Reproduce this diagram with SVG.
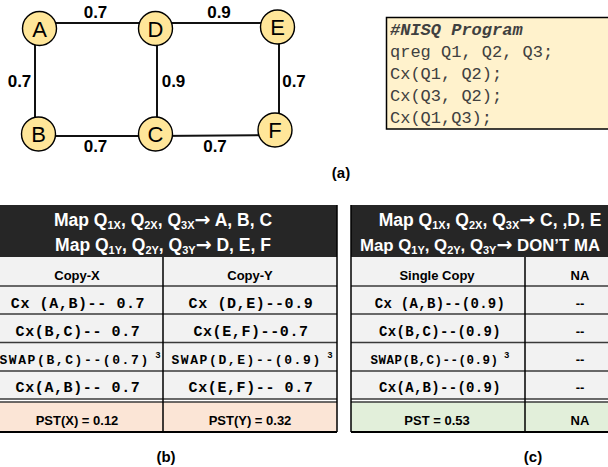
<svg xmlns="http://www.w3.org/2000/svg" width="608" height="467" viewBox="0 0 608 467">
<style>
.node circle{fill:#FFE699;stroke:#000;stroke-width:1.4}
.node text{font-family:"Liberation Sans",Arial,sans-serif;font-size:22px;text-anchor:middle;fill:#000}
.edge{stroke:#111;stroke-width:2;fill:none}
.el{font-family:"Liberation Sans",Arial,sans-serif;font-size:17px;font-weight:bold;text-anchor:middle;fill:#000}
.code{font-family:"Liberation Mono","Courier New",monospace;font-size:17px;fill:#404040}
.hd{font-family:"Liberation Sans",Arial,sans-serif;font-size:17.5px;font-weight:bold;fill:#fff;text-anchor:middle}
.hs{font-family:"Liberation Sans",Arial,sans-serif;font-size:16.8px;font-weight:bold;fill:#fff;text-anchor:start}
.sb{font-size:11px}
.ar{font-family:"DejaVu Sans",sans-serif;font-size:19px;font-weight:bold}
.cal{font-family:"Liberation Sans",Arial,sans-serif;font-size:13px;font-weight:bold;fill:#000;text-anchor:middle}
.mb{font-family:"Liberation Mono","Courier New",monospace;font-size:15px;font-weight:bold;letter-spacing:0.6px;fill:#000;text-anchor:middle}
.mc{font-family:"Liberation Mono","Courier New",monospace;font-size:14px;font-weight:bold;letter-spacing:0.3px;fill:#000;text-anchor:middle}
.sw{font-family:"Liberation Mono","Courier New",monospace;font-size:13px;font-weight:bold;letter-spacing:1.6px;fill:#000;text-anchor:middle}
.swc{font-family:"Liberation Mono","Courier New",monospace;font-size:12.5px;font-weight:bold;letter-spacing:0.5px;fill:#000;text-anchor:middle}
.sup{font-size:9px;letter-spacing:0}
.rl{stroke:#3a3a3a;stroke-width:1.3}
.vl{stroke:#000;stroke-width:1.5}
.lab{font-family:"Liberation Sans",Arial,sans-serif;font-size:15px;font-weight:bold;text-anchor:middle;fill:#000}
</style>

<g id="connectors">
<line class="edge" x1="40" y1="23" x2="156" y2="23"/>
<line class="edge" x1="156" y1="23" x2="278" y2="23"/>
<line class="edge" x1="35" y1="28" x2="35" y2="134"/>
<line class="edge" x1="157" y1="28" x2="157" y2="134"/>
<line class="edge" x1="279" y1="27" x2="279" y2="130"/>
<line class="edge" x1="38" y1="136" x2="156" y2="136"/>
<line class="edge" x1="156" y1="136" x2="275" y2="135"/>
<text class="el" x="95.5" y="17.5">0.7</text>
<text class="el" x="219" y="17.5">0.9</text>
<text class="el" x="19.5" y="87">0.7</text>
<text class="el" x="173.5" y="87" font-weight="normal">0.9</text>
<text class="el" x="294" y="87">0.7</text>
<text class="el" x="95.5" y="152">0.7</text>
<text class="el" x="215" y="152">0.7</text>
</g>

<g id="node-A" class="node"><circle cx="39.5" cy="28.5" r="17"/><text x="39.5" y="36.5">A</text></g>
<g id="node-D" class="node"><circle cx="155.5" cy="28.5" r="17"/><text x="155.5" y="36.5">D</text></g>
<g id="node-E" class="node"><circle cx="277.5" cy="27" r="17"/><text x="277.5" y="35">E</text></g>
<g id="node-B" class="node"><circle cx="38.5" cy="134" r="17"/><text x="38.5" y="142">B</text></g>
<g id="node-C" class="node"><circle cx="155.5" cy="134" r="17"/><text x="155.5" y="142">C</text></g>
<g id="node-F" class="node"><circle cx="275" cy="130" r="17"/><text x="275" y="138">F</text></g>

<g id="program">
<rect x="386.5" y="17.5" width="240" height="111.5" fill="#FFF2CC" stroke="#000" stroke-width="1.5"/>
<text class="code" x="390" y="35" font-weight="bold" font-style="italic" fill="#000">#NISQ Program</text>
<text class="code" x="390" y="57">qreg Q1, Q2, Q3;</text>
<text class="code" x="390" y="79">Cx(Q1, Q2);</text>
<text class="code" x="390" y="101">Cx(Q3, Q2);</text>
<text class="code" x="390" y="123">Cx(Q1,Q3);</text>
</g>
<text class="lab" x="341" y="178">(a)</text>

<g id="table-b">
<rect x="-10" y="205" width="347" height="52" fill="#262626"/>
<rect x="-10" y="257" width="347" height="142" fill="#F2F2F2"/>
<rect x="-10" y="402" width="347" height="30" fill="#FBE5D6"/>
<line class="rl" x1="-10" y1="286" x2="337" y2="286"/>
<line class="rl" x1="-10" y1="314" x2="337" y2="314"/>
<line class="rl" x1="-10" y1="342.5" x2="337" y2="342.5"/>
<line class="rl" x1="-10" y1="371" x2="337" y2="371"/>
<line class="rl" x1="-10" y1="399" x2="337" y2="399"/>
<line class="rl" x1="-10" y1="402" x2="337" y2="402"/>
<line x1="-10" y1="432" x2="337" y2="432" stroke="#000" stroke-width="2"/>
<line class="vl" x1="163" y1="257" x2="163" y2="432"/>
<line class="vl" x1="337" y1="205" x2="337" y2="432"/>
<text class="hd" x="163" y="226">Map Q<tspan class="sb" dy="3">1X</tspan><tspan dy="-3">, Q</tspan><tspan class="sb" dy="3">2X</tspan><tspan dy="-3">, Q</tspan><tspan class="sb" dy="3">3X</tspan><tspan class="ar" dy="-3">→</tspan><tspan> A, B, C</tspan></text>
<text class="hd" x="163" y="251">Map Q<tspan class="sb" dy="3">1Y</tspan><tspan dy="-3">, Q</tspan><tspan class="sb" dy="3">2Y</tspan><tspan dy="-3">, Q</tspan><tspan class="sb" dy="3">3Y</tspan><tspan class="ar" dy="-3">→</tspan><tspan> D, E, F</tspan></text>
<text class="cal" x="77" y="280">Copy-X</text>
<text class="cal" x="250" y="280">Copy-Y</text>
<text class="mb" x="78" y="307.5">Cx (A,B)-- 0.7</text>
<text class="mb" x="251" y="307.5">Cx (D,E)--0.9</text>
<text class="mb" x="78" y="336">Cx(B,C)--  0.7</text>
<text class="mb" x="251" y="336">Cx(E,F)--0.7</text>
<text class="sw" x="80" y="363.5">SWAP(B,C)--(0.7)<tspan class="sup" dy="-6"> 3</tspan></text>
<text class="sw" x="252" y="363.5">SWAP(D,E)--(0.9)<tspan class="sup" dy="-6"> 3</tspan></text>
<text class="mb" x="78" y="391.5">Cx(A,B)--  0.7</text>
<text class="mb" x="251" y="391.5">Cx(E,F)--  0.7</text>
<text class="cal" x="77" y="425">PST(X) = 0.12</text>
<text class="cal" x="250" y="425">PST(Y) = 0.32</text>
</g>
<text class="lab" x="166" y="462">(b)</text>

<g id="table-c">
<rect x="351" y="205" width="290" height="52" fill="#262626"/>
<rect x="351" y="257" width="290" height="142" fill="#F2F2F2"/>
<rect x="351" y="402" width="290" height="30" fill="#E2EFDA"/>
<line class="rl" x1="351" y1="286" x2="641" y2="286"/>
<line class="rl" x1="351" y1="314" x2="641" y2="314"/>
<line class="rl" x1="351" y1="342.5" x2="641" y2="342.5"/>
<line class="rl" x1="351" y1="371" x2="641" y2="371"/>
<line class="rl" x1="351" y1="399" x2="641" y2="399"/>
<line class="rl" x1="351" y1="402" x2="641" y2="402"/>
<line x1="351" y1="432" x2="641" y2="432" stroke="#000" stroke-width="2"/>
<line class="vl" x1="351" y1="205" x2="351" y2="432"/>
<line class="vl" x1="525" y1="257" x2="525" y2="432"/>
<text class="hd" x="490" y="226">Map Q<tspan class="sb" dy="3">1X</tspan><tspan dy="-3">, Q</tspan><tspan class="sb" dy="3">2X</tspan><tspan dy="-3">, Q</tspan><tspan class="sb" dy="3">3X</tspan><tspan class="ar" dy="-3">→</tspan><tspan> C, ,D, E</tspan></text>
<text class="hs" x="360" y="251">Map Q<tspan class="sb" dy="3">1Y</tspan><tspan dy="-3">, Q</tspan><tspan class="sb" dy="3">2Y</tspan><tspan dy="-3">, Q</tspan><tspan class="sb" dy="3">3Y</tspan><tspan class="ar" dy="-3">→</tspan><tspan> DON’T MA</tspan></text>
<text class="cal" x="437" y="280">Single Copy</text>
<text class="cal" x="580" y="280">NA</text>
<text class="mc" x="440" y="307.5">Cx (A,B)--(0.9)</text>
<text class="mc" x="440" y="336">Cx(B,C)--(0.9)</text>
<text class="swc" x="440" y="363.5">SWAP(B,C)--(0.9)<tspan class="sup" dy="-6"> 3</tspan></text>
<text class="mc" x="440" y="391.5">Cx(A,B)--(0.9)</text>
<text class="cal" x="580" y="307.5">--</text>
<text class="cal" x="580" y="336">--</text>
<text class="cal" x="580" y="363.5">--</text>
<text class="cal" x="580" y="391.5">--</text>
<text class="cal" x="437" y="425">PST = 0.53</text>
<text class="cal" x="580" y="425">NA</text>
</g>
<text class="lab" x="533" y="462">(c)</text>
</svg>
